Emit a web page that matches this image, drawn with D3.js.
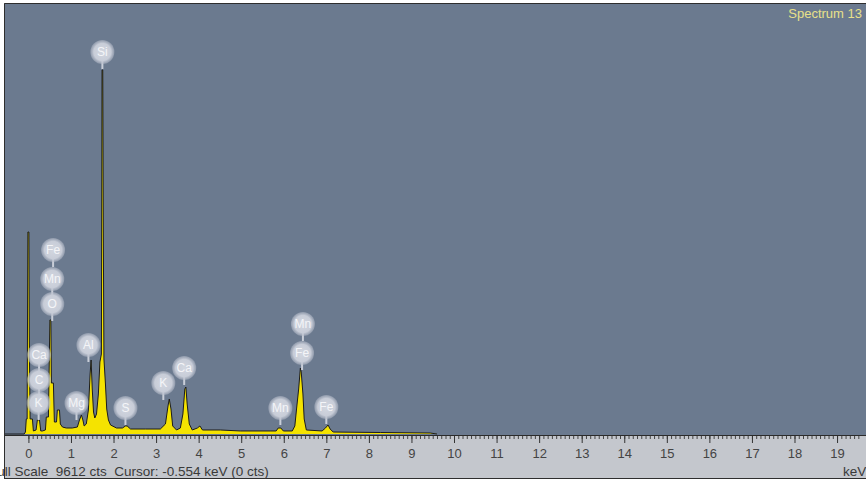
<!DOCTYPE html>
<html>
<head>
<meta charset="utf-8">
<script src="https://cdn.jsdelivr.net/npm/d3@7"></script>
<style>
  body { margin: 0; background: #fff; }
  svg { display: block; font-family: "Liberation Sans", Arial, sans-serif; }
</style>
</head>
<body>
<svg width="866" height="482"></svg>
<script>
// spectrum: energy (keV) and counts
var spectrumKeV = [-0.55, -0.10, -0.07, -0.05, -0.03, -0.012, 0.012, 0.02, 0.04, 0.094, 0.117,
    0.18, 0.21, 0.26, 0.29, 0.33, 0.40, 0.42, 0.47, 0.505, 0.528, 0.54, 0.587, 0.61, 0.66,
    0.68, 0.73, 0.75, 0.80, 0.89, 1.03, 1.15, 1.20, 1.245, 1.28, 1.31, 1.36, 1.41, 1.45,
    1.473, 1.50, 1.53, 1.56, 1.60, 1.644, 1.68, 1.715, 1.73, 1.747, 1.76, 1.775, 1.81, 1.84,
    1.88, 1.93, 2.07, 2.21, 2.28, 2.32, 2.40, 2.75, 3.10, 3.22, 3.28, 3.31, 3.35, 3.39,
    3.48, 3.57, 3.63, 3.675, 3.70, 3.73, 3.78, 3.85, 3.97, 4.03, 4.09, 4.51, 4.98, 5.68,
    5.82, 5.87, 5.93, 5.99, 6.20, 6.26, 6.30, 6.35, 6.39, 6.41, 6.45, 6.48, 6.53, 6.90,
    6.98, 7.04, 7.09, 7.16, 8.27, 9.44, 9.60];
var spectrumCts = [0, 0, 44, 333, 333, 4484, 4484, 2220, 333, 333, 67,
    89, 311, 311, 67, 67, 89, 377, 377, 2531, 2531, 1132, 1132, 266, 266,
    533, 533, 222, 155, 133, 133, 155, 311, 422, 311, 178, 222, 533, 1332,
    1643, 999, 488, 355, 444, 888, 1598, 1776, 8081, 8081, 4440, 1665, 1110, 555,
    311, 200, 133, 133, 178, 178, 111, 111, 111, 222, 622, 777, 555, 178,
    89, 133, 444, 999, 1043, 666, 222, 89, 133, 178, 89, 89, 67, 67,
    67, 133, 133, 67, 67, 178, 555, 999, 1465, 1376, 888, 333, 89, 67,
    133, 200, 111, 44, 33, 22, 0];

// element labels: name, energy (keV) and height (cts) of the bubble centre
var labelNames = ["Si", "Fe", "Mn", "O", "Ca", "C", "K", "Al", "Mg", "S", "K", "Ca", "Mn", "Fe", "Mn", "Fe"];
var labelKeV   = [1.738, 0.58, 0.56, 0.56, 0.25, 0.25, 0.24, 1.41, 1.13, 2.28, 3.17, 3.66, 6.45, 6.43, 5.92, 7.00];
var labelCts   = [8480, 4085, 3441, 2886, 1754, 1199, 688, 1976, 688, 577, 1132, 1465, 2442, 1798, 577, 599];

var majorTicks = d3.range(0, 20);
var minorTicks = d3.range(0, 196).map(function(i) { return i / 10; });

var svg = d3.select("svg");
var frameLeft = 4, frameTop = 3, plotBottom = 436, bandBottom = 478;

var xScale = d3.scaleLinear().domain([-0.55, 19.68]).range([5, 866]);
var yScale = d3.scaleLinear().domain([0, 9612]).range([434, 1]);

var defs = svg.append("defs");
defs.append("clipPath").attr("id", "plotclip")
    .append("rect").attr("x", frameLeft + 1).attr("y", frameTop + 1)
    .attr("width", 866 - frameLeft).attr("height", plotBottom - frameTop - 1);
var grad = defs.append("radialGradient").attr("id", "bubble");
grad.append("stop").attr("offset", "0%").attr("stop-color", "#d3d7e0");
grad.append("stop").attr("offset", "72%").attr("stop-color", "#c8cdd8");
grad.append("stop").attr("offset", "100%").attr("stop-color", "#b4bac8").attr("stop-opacity", 0.5);

// plot background and axis band
svg.append("rect").attr("x", frameLeft).attr("y", frameTop)
    .attr("width", 866 - frameLeft).attr("height", plotBottom - frameTop)
    .attr("fill", "#6b7a8f");
svg.append("rect").attr("x", frameLeft).attr("y", plotBottom)
    .attr("width", 866 - frameLeft).attr("height", bandBottom - plotBottom)
    .attr("fill", "#c4c7cd");
svg.append("path")
    .attr("d", "M" + (frameLeft + 0.5) + "," + (bandBottom + 0.5) + "V" + (frameTop + 0.5) + "H866")
    .attr("fill", "none").attr("stroke", "#2e2e2e");
svg.append("line").attr("x1", frameLeft).attr("x2", 866)
    .attr("y1", bandBottom + 0.5).attr("y2", bandBottom + 0.5)
    .attr("stroke", "#2e2e2e");

var spec = spectrumKeV.map(function(k, i) { return { keV: k, cts: spectrumCts[i] }; });

var plot = svg.append("g").attr("clip-path", "url(#plotclip)");

plot.append("path")
    .datum(spec)
    .attr("fill", "#f5e300")
    .attr("d", d3.area()
        .x(function(d) { return xScale(d.keV); })
        .y0(yScale(0))
        .y1(function(d) { return yScale(d.cts); }));

plot.append("path")
    .datum(spec)
    .attr("fill", "none")
    .attr("stroke", "#1c1c1c")
    .attr("stroke-width", 1)
    .attr("d", d3.line()
        .x(function(d) { return xScale(d.keV); })
        .y(function(d) { return yScale(d.cts); }));

// element bubbles
var labels = labelNames.map(function(n, i) { return { name: n, keV: labelKeV[i], cts: labelCts[i] }; });
var bub = plot.selectAll(".bub").data(labels).enter().append("g").attr("class", "bub")
    .attr("transform", function(d) { return "translate(" + xScale(d.keV) + "," + yScale(d.cts) + ")"; });
bub.append("line").attr("x1", 0).attr("x2", 0).attr("y1", 8).attr("y2", 17)
    .attr("stroke", "#c9ced8").attr("stroke-width", 2);
bub.append("circle").attr("r", 12).attr("fill", "url(#bubble)");
bub.append("text")
    .attr("text-anchor", "middle").attr("dy", "0.36em")
    .attr("fill", "#f4f5f8").style("font-size", "12px")
    .text(function(d) { return d.name; });

// axis
var axisG = svg.append("g").attr("transform", "translate(0," + plotBottom + ")");
axisG.append("g")
    .call(d3.axisBottom(xScale).tickValues(minorTicks).tickSize(3).tickFormat(""))
    .call(function(g) { g.select(".domain").remove(); })
    .selectAll("line").attr("stroke", "#444");
axisG.append("g")
    .call(d3.axisBottom(xScale).tickValues(majorTicks).tickSize(7).tickPadding(6).tickFormat(d3.format("d")))
    .call(function(g) { g.select(".domain").remove(); })
    .call(function(g) {
        g.selectAll("line").attr("stroke", "#333");
        g.selectAll("text").attr("fill", "#444")
            .style("font-size", "13px").style("font-family", "'Liberation Sans', Arial, sans-serif");
    });
svg.append("line").attr("x1", frameLeft).attr("x2", 866)
    .attr("y1", plotBottom - 0.5).attr("y2", plotBottom - 0.5)
    .attr("stroke", "#2b2b2b");

svg.append("text")
    .attr("x", 862).attr("y", 18)
    .attr("text-anchor", "end")
    .attr("fill", "#e8e08a")
    .style("font-size", "13px")
    .text("Spectrum 13");

svg.append("text")
    .attr("x", -11).attr("y", 476)
    .attr("fill", "#3a3a3a")
    .style("font-size", "13.5px")
    .style("white-space", "pre")
    .text("Full Scale  9612 cts  Cursor: -0.554 keV (0 cts)");

svg.append("text")
    .attr("x", 843).attr("y", 476)
    .attr("fill", "#3a3a3a")
    .style("font-size", "13.5px")
    .text("keV");
</script>
</body>
</html>
